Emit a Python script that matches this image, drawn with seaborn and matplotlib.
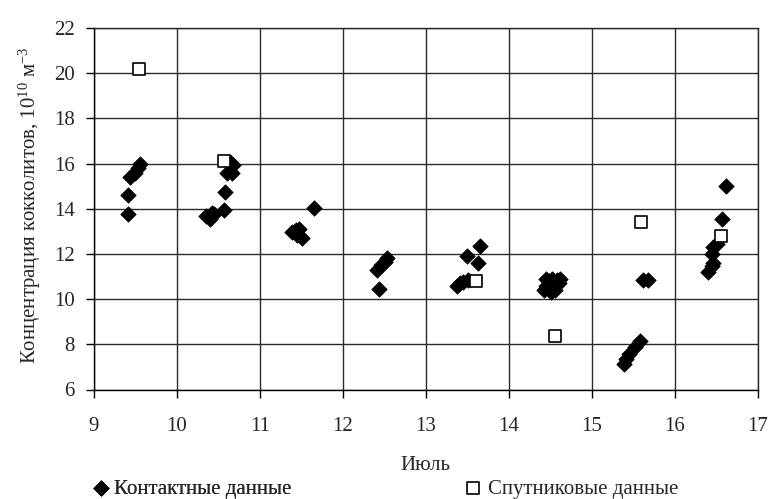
import matplotlib
matplotlib.use("Agg")
import matplotlib.pyplot as plt
import seaborn as sns
import pandas as pd

# ---- data ----
contact_x = [9.41, 9.41, 9.43, 9.49, 9.53, 9.55,
             10.35, 10.40, 10.45, 10.42, 10.57, 10.58, 10.60, 10.66, 10.64, 10.67,
             11.39, 11.43, 11.47, 11.50, 11.45, 11.65,
             12.43, 12.41, 12.46, 12.53, 12.50,
             13.37, 13.41, 13.45, 13.51, 13.49, 13.63, 13.65,
             14.42, 14.45, 14.48, 14.50, 14.52, 14.55, 14.58, 14.60, 14.45, 14.50, 14.55, 14.62,
             15.62, 15.67, 15.38, 15.41, 15.45, 15.52, 15.58,
             16.40, 16.44, 16.46, 16.44, 16.46, 16.50, 16.57, 16.62]
contact_y = [13.75, 14.6, 15.4, 15.6, 15.8, 16.0,
             13.7, 13.55, 13.75, 13.8, 13.95, 14.75, 15.6, 15.6, 16.05, 15.95,
             12.95, 13.05, 13.1, 12.7, 12.85, 14.05,
             10.45, 11.3, 11.5, 11.8, 11.65,
             10.6, 10.7, 10.75, 10.85, 11.9, 11.6, 12.35,
             10.4, 10.6, 10.8, 10.5, 10.9, 10.6, 10.85, 10.7, 10.9, 10.3, 10.4, 10.9,
             10.85, 10.85, 7.15, 7.35, 7.55, 7.9, 8.15,
             11.2, 11.45, 11.6, 12.0, 12.3, 12.45, 13.55, 15.0]
sat_x = [9.54, 10.57, 13.60, 14.55, 15.59, 16.55]
sat_y = [20.2, 16.1, 10.8, 8.35, 13.4, 12.8]

x_ticks = [9, 10, 11, 12, 13, 14, 15, 16, 17]
y_ticks = [6, 8, 10, 12, 14, 16, 18, 20, 22]
label_contact = "Контактные данные"
label_sat = "Спутниковые данные"
x_label = "Июль"
y_label = "Концентрация кокколитов, 10$^{10}$ м$^{-3}$"

sns.set_style("white")
plt.rcParams["font.family"] = ["Liberation Serif", "DejaVu Serif"]
plt.rcParams["mathtext.fontset"] = "custom"
plt.rcParams["mathtext.rm"] = "Liberation Serif"
plt.rcParams["mathtext.it"] = "Liberation Serif"

FS = 15

df_c = pd.DataFrame({"x": contact_x, "y": contact_y})
df_s = pd.DataFrame({"x": sat_x, "y": sat_y})

fig = plt.figure(figsize=(7.69, 4.99), dpi=100)
ax = fig.add_axes([94 / 769, 1 - 389.5 / 499, (758 - 94) / 769, (389.5 - 28) / 499])

sns.scatterplot(data=df_c, x="x", y="y", marker="D", s=62, color="black",
                edgecolor="black", linewidth=0.5, ax=ax, label=label_contact, zorder=3)
sns.scatterplot(data=df_s, x="x", y="y", marker="s", s=85, facecolor="white",
                edgecolor="black", linewidth=1.2, ax=ax, label=label_sat, zorder=4)

ax.set_xlim(9, 17)
ax.set_ylim(6, 22)
ax.set_xticks(x_ticks)
ax.set_yticks(y_ticks)
ax.grid(True, color="#2a2a2a", linewidth=1.0)
ax.set_axisbelow(True)
for sp in ax.spines.values():
    sp.set_color("#2a2a2a")
    sp.set_linewidth(1.0)
ax.spines["left"].set_color("black")
ax.spines["bottom"].set_color("black")
ax.tick_params(axis="both", direction="out", length=6, width=1.0, color="black",
               labelsize=FS, left=True, bottom=True)
ax.tick_params(axis="y", pad=8)
ax.tick_params(axis="x", pad=13.8)
ax.set_xlabel("")
ax.set_ylabel("")
fig.text(425 / 769, 1 - 466 / 499, x_label, ha="center", va="center", fontsize=FS)
fig.text(30 / 769, 1 - 205 / 499, y_label, ha="center", va="center",
         rotation=90, fontsize=FS)

ax.get_legend().remove()
h, l = ax.get_legend_handles_labels()
em = FS * 100 / 72
hl = 0.7
leg1 = fig.legend([h[0]], [l[0]], loc="center left",
                  bbox_to_anchor=((101 - hl * em / 2) / 769, 1 - 489 / 499),
                  frameon=False, fontsize=FS, handletextpad=0.25,
                  handlelength=hl, borderpad=0, borderaxespad=0)
leg2 = fig.legend([h[1]], [l[1]], loc="center left",
                  bbox_to_anchor=((473 - hl * em / 2) / 769, 1 - 489 / 499),
                  frameon=False, fontsize=FS, handletextpad=0.35,
                  handlelength=hl, borderpad=0, borderaxespad=0)
fig.add_artist(leg1)

fig.savefig("out.png", dpi=100)
